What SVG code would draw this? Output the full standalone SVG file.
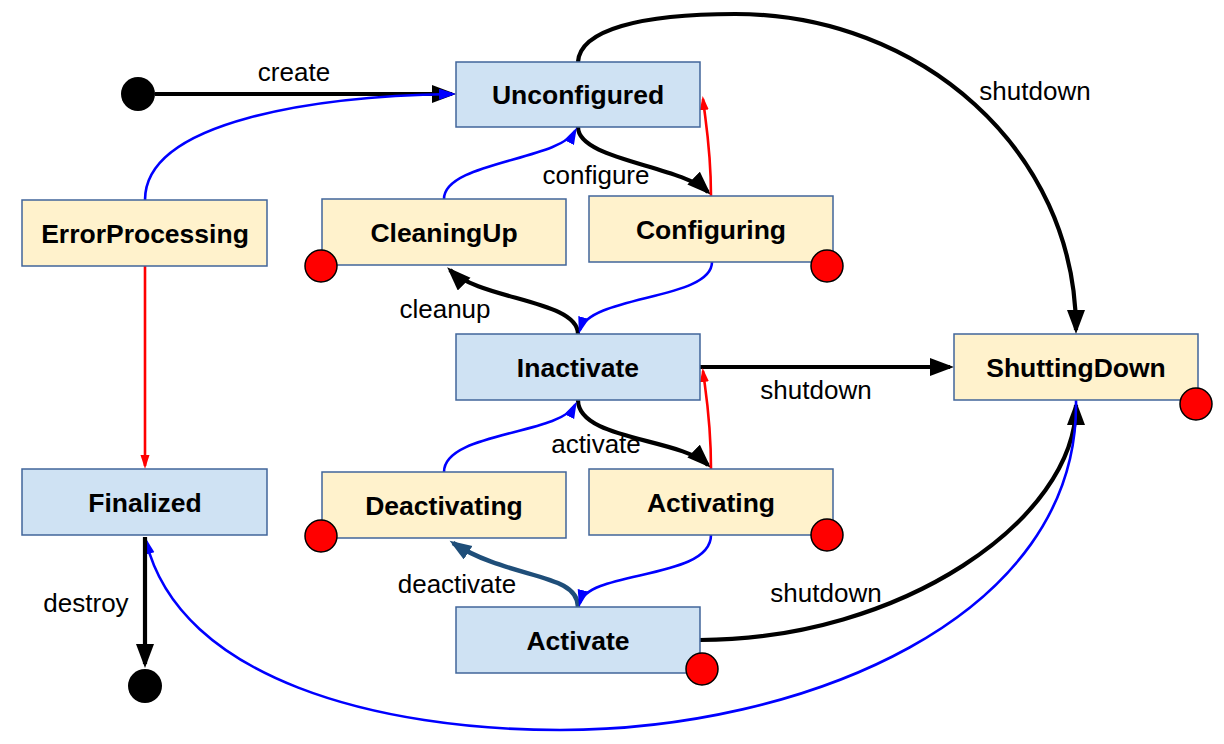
<svg xmlns="http://www.w3.org/2000/svg" width="1224" height="744" viewBox="0 0 1224 744">
<style>
.n rect{stroke:#41659a;stroke-width:1.5}
.b rect{fill:#cfe2f3}
.y rect{fill:#fff2cc}
.n text{font-family:"Liberation Sans",Arial,sans-serif;font-weight:bold;font-size:26.5px;text-anchor:middle;fill:#000}
.lbl{font-family:"Liberation Sans",Arial,sans-serif;font-size:26px;text-anchor:middle;fill:#000}
.end{fill:#ff0000;stroke:#000;stroke-width:1.5}
.k{fill:none;stroke:#000;stroke-width:4.2;marker-end:url(#ak)}
.bl{fill:none;stroke:#0000ff;stroke-width:2.6;marker-end:url(#ab)}
.r{fill:none;stroke:#ff0000;stroke-width:2.6;marker-end:url(#ar)}
.db{fill:none;stroke:#1f4e79;stroke-width:4.5;marker-end:url(#ad)}
</style>
<defs>
<marker id="ak" markerUnits="userSpaceOnUse" markerWidth="26" markerHeight="20" refX="20" refY="9" orient="auto"><path d="M0,0 L24,9 L0,18 z" fill="#000"/></marker>
<marker id="ad" markerUnits="userSpaceOnUse" markerWidth="24" markerHeight="18" refX="18" refY="8" orient="auto"><path d="M0,0 L22,8 L0,16 z" fill="#1f4e79"/></marker>
<marker id="ab" markerUnits="userSpaceOnUse" markerWidth="18" markerHeight="12" refX="13" refY="5.5" orient="auto"><path d="M0,0 L17,5.5 L0,11 z" fill="#0000ff"/></marker>
<marker id="ar" markerUnits="userSpaceOnUse" markerWidth="16" markerHeight="10" refX="11" refY="4.5" orient="auto"><path d="M0,0 L14,4.5 L0,9 z" fill="#ff0000"/></marker>
</defs>
<rect width="1224" height="744" fill="#fff"/>
<g id="connectors">
<path class="k" d="M155,94 L452,94"/>
<path class="bl" d="M145,200 C145,120 320,96 452,94"/>
<path class="r" d="M145,266 L145,466"/>
<path class="k" d="M578,127 C578,160 680,165 708,192"/>
<path class="r" d="M711,196 C711,150 706,125 703,99"/>
<path class="bl" d="M444,199 C444,162 560,160 575,131"/>
<path class="k" d="M578,334 C578,300 480,300 450,270"/>
<path class="bl" d="M712,262 C712,300 590,295 580,330"/>
<path class="k" d="M700,367 L950,367"/>
<path class="k" d="M578,62 C580,30 640,14 735,14 C920,14 1076,150 1076,330"/>
<path class="k" d="M578,400 C578,440 680,438 708,465"/>
<path class="r" d="M711,469 C711,420 706,395 703,371"/>
<path class="bl" d="M444,472 C444,432 560,435 575,405"/>
<path class="db" d="M578,607 C578,572 510,580 453,543"/>
<path class="bl" d="M711,535 C711,580 588,570 580,603"/>
<path class="k" d="M700,640 C900,640 1076,520 1076,405"/>
<path class="bl" d="M1076,400 C1080,620 800,730 560,730 C380,730 180,680 146,541"/>
<path class="k" d="M145,537 L145,664"/>
<text class="lbl" x="294" y="81">create</text>
<text class="lbl" x="596" y="184">configure</text>
<text class="lbl" x="445" y="318">cleanup</text>
<text class="lbl" x="1035" y="100">shutdown</text>
<text class="lbl" x="816" y="399">shutdown</text>
<text class="lbl" x="596" y="453">activate</text>
<text class="lbl" x="457" y="593">deactivate</text>
<text class="lbl" x="826" y="602">shutdown</text>
<text class="lbl" x="86" y="612">destroy</text>
</g>
<g id="start"><circle cx="138" cy="94" r="17" fill="#000"/></g>
<g id="final"><circle cx="145" cy="686" r="17" fill="#000"/></g>
<g id="Unconfigured" class="n b"><rect x="456" y="62" width="244" height="65"/><text x="578" y="104">Unconfigured</text></g>
<g id="ErrorProcessing" class="n y"><rect x="22" y="200" width="245" height="66"/><text x="145" y="243">ErrorProcessing</text></g>
<g id="CleaningUp" class="n y"><rect x="322" y="199" width="244" height="66"/><text x="444" y="242">CleaningUp</text><circle class="end" cx="321" cy="266" r="16"/></g>
<g id="Configuring" class="n y"><rect x="589" y="196" width="244" height="66"/><text x="711" y="239">Configuring</text><circle class="end" cx="827" cy="266" r="16"/></g>
<g id="Inactivate" class="n b"><rect x="456" y="334" width="244" height="66"/><text x="578" y="377">Inactivate</text></g>
<g id="ShuttingDown" class="n y"><rect x="954" y="334" width="244" height="66"/><text x="1076" y="377">ShuttingDown</text><circle class="end" cx="1196" cy="404" r="16"/></g>
<g id="Finalized" class="n b"><rect x="22" y="469" width="245" height="66"/><text x="145" y="512">Finalized</text></g>
<g id="Deactivating" class="n y"><rect x="322" y="472" width="244" height="66"/><text x="444" y="515">Deactivating</text><circle class="end" cx="321" cy="536" r="16"/></g>
<g id="Activating" class="n y"><rect x="589" y="469" width="244" height="66"/><text x="711" y="512">Activating</text><circle class="end" cx="827" cy="535" r="16"/></g>
<g id="Activate" class="n b"><rect x="456" y="607" width="244" height="66"/><text x="578" y="650">Activate</text><circle class="end" cx="702" cy="669" r="16"/></g>
</svg>
